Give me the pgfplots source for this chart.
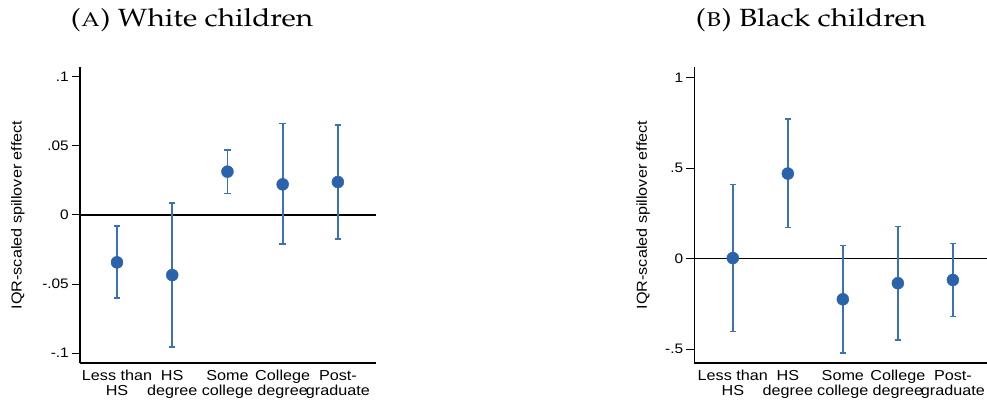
\documentclass[border=0pt]{standalone}
\usepackage[T1]{fontenc}
\usepackage{fontspec}
\usepackage{graphicx}
\setmainfont{Liberation Serif}
\newfontfamily\stfont[FakeStretch=1.12]{Liberation Sans}
\usepackage{pgfplots}
\usepackage{pgfplotstable}
\pgfplotsset{compat=1.18}
\definecolor{dotblue}{HTML}{2A62AC}
\definecolor{barblue}{HTML}{3A72BA}
\newcommand{\palfont}{\fontencoding{T1}\fontfamily{ppl}\selectfont}

\pgfplotsset{
  effstyle/.style={
    scale only axis,
    width=296bp, height=296bp,
    axis x line=bottom, axis y line=left,
    axis line style={-, line width=1.1bp, black},
    xtick={0,1,2,3,4},
    xticklabels={{Less than\\HS},{HS\\degree},{Some\\college},{College\\degree},{Post-\\graduate}},
    x tick label style={align=center, font={\stfont\fontsize{14.5}{15}\selectfont}, inner sep=0pt, yshift=1bp},
    x tick style={draw=none},
    major tick length=8bp,
    tick align=outside,
    y tick style={line width=1bp, black},
    y tick label style={font={\stfont\fontsize{13.8}{15}\selectfont}, inner sep=0pt, xshift=-3bp},
    ylabel={IQR-scaled spillover effect},
    ylabel style={font={\stfont\fontsize{14.5}{16}\selectfont}, anchor=center},
    clip=false,
  },
  ebar/.style={draw=none, mark=none, forget plot,
    error bars/.cd, y dir=both, y explicit,
    error bar style={draw=barblue, line width=1.8bp},
    error mark options={draw=barblue, line width=1.6bp, mark size=3.2bp, rotate=90}},
  dots/.style={only marks, mark=*, mark size=6bp, mark options={fill=dotblue, draw=dotblue}},
}

% columns: x, estimate, upper CI minus estimate (ep), estimate minus lower CI (em)
\pgfplotstableread{
x y ep em
0 -0.0343 0.0263 0.0257
1 -0.0435 0.0520 0.0519
2  0.0314 0.0156 0.0159
3  0.0222 0.0440 0.0434
4  0.0239 0.0411 0.0411
}\twhite
\pgfplotstableread{
x y ep em
0  0.003 0.406 0.405
1  0.470 0.300 0.299
2 -0.225 0.298 0.298
3 -0.136 0.314 0.315
4 -0.118 0.202 0.202
}\tblack

\begin{document}
\begin{tikzpicture}
\path[use as bounding box] (0,0) rectangle (987bp,402bp);
\node[anchor=base, inner sep=0pt] at (192bp,375bp)
  {\scalebox{1.19}[1]{\palfont\fontsize{25}{27}\selectfont (\textsc{a}) White children}};
\node[anchor=base, inner sep=0pt] at (811bp,375bp)
  {\scalebox{1.19}[1]{\palfont\fontsize{25}{27}\selectfont (\textsc{b}) Black children}};

\begin{axis}[effstyle, at={(80bp,39bp)}, anchor=south west,
  xmin=-0.67, xmax=4.69, ymin=-0.1072, ymax=0.1072,
  ytick={-0.1,-0.05,0,0.05,0.1},
  yticklabels={-.1,-.05,0,.05,.1},
  ylabel style={at={(axis description cs:-0.2095,0.5)}},
]
\addplot[black, line width=1.3bp, forget plot] coordinates {(-0.67,0) (4.69,0)};
\addplot[ebar] table[x=x, y=y, y error plus=ep, y error minus=em] {\twhite};
\addplot[dots] table[x=x, y=y] {\twhite};
\end{axis}

\begin{axis}[effstyle, width=292.7bp, at={(694.3bp,39bp)}, anchor=south west,
  xmin=-0.70, xmax=4.62, ymin=-0.577, ymax=1.059,
  ytick={-0.5,0,0.5,1},
  yticklabels={-.5,0,.5,1},
  ylabel style={at={(axis description cs:-0.175,0.5)}},
]
\addplot[black, line width=1.3bp, forget plot] coordinates {(-0.70,0) (4.62,0)};
\addplot[ebar] table[x=x, y=y, y error plus=ep, y error minus=em] {\tblack};
\addplot[dots] table[x=x, y=y] {\tblack};
\end{axis}
\end{tikzpicture}
\end{document}
